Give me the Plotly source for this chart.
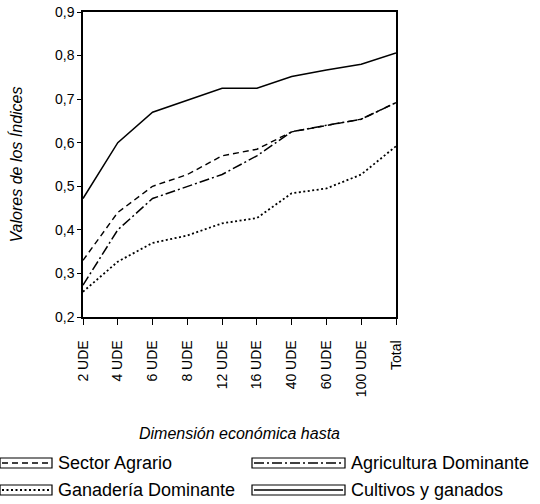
import plotly.graph_objects as go

categories = ["2 UDE", "4 UDE", "6 UDE", "8 UDE", "12 UDE", "16 UDE", "40 UDE", "60 UDE", "100 UDE", "Total"]
sector_agrario = [0.33, 0.44, 0.50, 0.527, 0.57, 0.585, 0.625, 0.64, 0.654, 0.692]
ganaderia_dominante = [0.258, 0.327, 0.37, 0.387, 0.415, 0.427, 0.484, 0.495, 0.527, 0.592]
agricultura_dominante = [0.273, 0.40, 0.472, 0.50, 0.527, 0.57, 0.625, 0.64, 0.654, 0.692]
cultivos_ganados = [0.472, 0.60, 0.67, 0.697, 0.725, 0.725, 0.752, 0.767, 0.78, 0.806]

series_names = ["Sector Agrario", "Ganadería Dominante", "Agricultura Dominante", "Cultivos y ganados"]
series_values = [sector_agrario, ganaderia_dominante, agricultura_dominante, cultivos_ganados]
series_dash = ["6px,4px", "2px,2.5px", "10px,3px,2px,3px", "solid"]
series_width = [1.4, 1.8, 1.5, 1.5]

W, H = 540, 504
L, R, T, B = 83, 396, 12, 317

def px_x(p):
    return (p - L) / (R - L)

def px_y(p):
    return (B - p) / (B - T)

fig = go.Figure()
for name, vals, dash, w in zip(series_names, series_values, series_dash, series_width):
    fig.add_trace(go.Scatter(x=categories, y=vals, mode="lines", name=name,
                             line=dict(color="black", width=w, dash=dash),
                             showlegend=False, hoverinfo="skip"))

font_fam = "Liberation Sans, Arial, sans-serif"
shapes = []
annotations = []
legend_pos = [(0, 52, 463), (0, 52, 490), (252, 345, 463), (252, 345, 490)]
for (x0, x1, yc), name, dash, w in zip(legend_pos, series_names, series_dash, series_width):
    shapes.append(dict(type="rect", xref="paper", yref="paper",
                       x0=px_x(x0), x1=px_x(x1), y0=px_y(yc + 5), y1=px_y(yc - 5),
                       line=dict(color="black", width=1.2)))
    shapes.append(dict(type="line", xref="paper", yref="paper",
                       x0=px_x(x0 + 2), x1=px_x(x1 - 2), y0=px_y(yc), y1=px_y(yc),
                       line=dict(color="black", width=w, dash=dash)))
    annotations.append(dict(text=name, xref="paper", yref="paper",
                            x=px_x(x1 + 4), y=px_y(yc), xanchor="left", yanchor="middle",
                            showarrow=False, font=dict(family=font_fam, size=18, color="black")))

fig.update_layout(
    width=W, height=H,
    margin=dict(l=L, r=W - R, t=T, b=H - B, autoexpand=False),
    plot_bgcolor="white", paper_bgcolor="white",
    separators=",.",
    font=dict(family=font_fam, color="black"),
    shapes=shapes, annotations=annotations,
    showlegend=False,
)
fig.update_xaxes(type="category", range=[0, 9], showgrid=False, zeroline=False, automargin=False,
                 showline=True, linecolor="black", linewidth=1.5, mirror=True,
                 ticks="outside", ticklen=6, tickcolor="black", tickangle=-90,
                 ticklabelstandoff=10,
                 tickfont=dict(family=font_fam, size=14, color="black"),
                 title=dict(text="<i>Dimensión económica hasta</i>",
                            font=dict(family=font_fam, size=16), standoff=32))
fig.update_yaxes(range=[0.2, 0.9], dtick=0.1, tickformat=".1f", showgrid=False, zeroline=False,
                 automargin=False,
                 showline=True, linecolor="black", linewidth=1.5, mirror=True,
                 ticks="outside", ticklen=4, tickcolor="black",
                 tickfont=dict(family=font_fam, size=14, color="black"),
                 title=dict(text="<i>Valores de los Índices</i>",
                            font=dict(family=font_fam, size=16), standoff=28))

fig.write_html("out.html", config={"displayModeBar": False},
               post_script="document.body.style.margin='0';")
